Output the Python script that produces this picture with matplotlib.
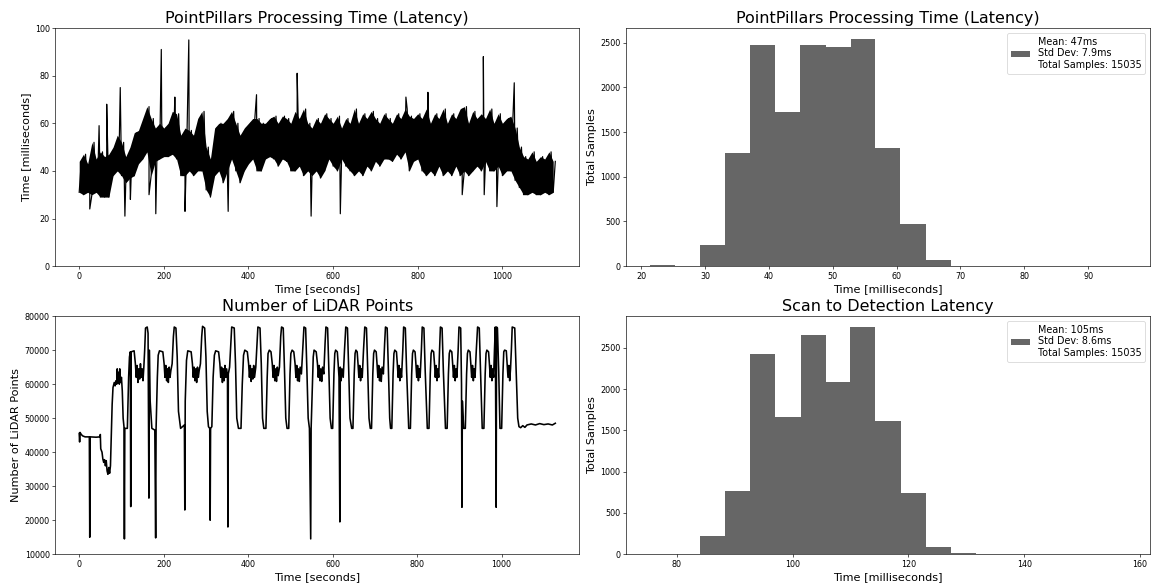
import numpy as np
import matplotlib
matplotlib.use("Agg")
import matplotlib.pyplot as plt

# ---- PointPillars latency over time ----
# band edges sampled every 10 seconds, low at t and high at t+5
lat_grid = np.arange(0, 1121, 10)
lat_low = [31, 30, 31, 30, 31, 29, 29, 29, 38, 40,
           38, 35, 37, 38, 43, 45, 48, 38, 44, 45,
           46, 46, 47, 45, 38, 38, 40, 38, 40, 40,
           32, 29, 38, 40, 35, 40, 45, 40, 35, 40,
           43, 45, 40, 40, 45, 46, 45, 42, 45, 44,
           40, 40, 42, 38, 40, 38, 40, 37, 40, 45,
           42, 40, 45, 42, 40, 38, 40, 38, 42, 40,
           44, 42, 45, 45, 44, 47, 45, 48, 40, 44,
           45, 40, 38, 40, 38, 42, 38, 40, 38, 42,
           38, 40, 38, 40, 42, 40, 44, 40, 40, 42,
           38, 40, 40, 36, 33, 30, 30, 31, 30, 30,
           31, 30, 31]
lat_high = [44, 47, 43, 52, 45, 48, 46, 47, 50, 55,
            52, 46, 50, 56, 57, 62, 67, 62, 58, 60,
            58, 60, 65, 64, 55, 58, 57, 55, 62, 65,
            50, 45, 58, 60, 60, 62, 65, 60, 55, 58,
            60, 62, 62, 60, 60, 62, 63, 60, 63, 62,
            60, 65, 62, 66, 60, 58, 62, 60, 64, 62,
            60, 63, 58, 62, 60, 66, 60, 64, 62, 65,
            62, 60, 64, 62, 60, 64, 62, 66, 63, 62,
            64, 62, 66, 60, 64, 62, 66, 60, 64, 62,
            66, 67, 60, 65, 62, 64, 62, 66, 60, 64,
            60, 62, 63, 58, 50, 46, 45, 48, 44, 46,
            45, 48, 44]
spike_t = [25, 47, 65, 97, 108, 121, 165, 181, 194, 226, 250, 259, 310,
           352, 419, 515, 548, 617, 772, 824, 905, 955, 957, 987, 1028]
spike_v = [24, 59, 68, 75, 21, 28, 30, 22, 91, 71, 23, 95, 29,
           23, 72, 81, 21, 22, 71, 73, 30, 88, 30, 25, 77]

# ---- Number of LiDAR points over time ----
lidar_t = [0, 1, 2, 5, 8, 14, 24, 25, 26, 40, 49, 50, 51, 54, 56, 58, 60, 62, 64, 66,
           68, 70, 72, 74, 76, 78, 80, 83, 85, 87, 89, 90, 91, 93, 95, 96, 98, 100, 102, 104,
           106, 107, 108,
           114, 117, 119, 121, 122, 123, 130, 133, 135, 137, 139, 141, 143, 145, 147, 149, 151,
           153, 155, 157, 161, 163, 165, 166, 168,
           172, 179, 181, 182, 185, 187, 190, 198, 201, 203, 205, 207, 209, 211, 213, 215, 217,
           220, 223, 225, 229, 232, 235,
           240, 249, 250, 251, 254, 257, 265, 268, 270, 272, 274, 276, 278, 280, 282, 284, 287,
           290, 292, 297, 300, 303,
           306, 309, 310, 311, 314, 317, 320, 323, 330, 333, 335, 337, 339, 341, 343, 345, 347,
           349, 351, 352, 353, 356, 359, 361, 367, 370, 373,
           377, 383, 386, 389, 392, 398, 401, 403, 405, 407, 409, 411, 413, 415, 418, 421, 423,
           428, 431, 434,
           437, 442, 445, 447, 450, 454, 457, 459, 461, 463, 465, 467, 469, 471, 474, 477, 479,
           483, 486, 489,
           492, 496, 499, 501, 504, 508, 511, 513, 515, 517, 519, 521, 523, 526, 529, 532, 536,
           539, 542,
           545, 548, 549, 551, 554, 556, 561, 564, 566, 568, 570, 572, 574, 576, 579, 582, 584,
           588, 591, 594,
           597, 600, 603, 605, 607, 611, 613, 615, 617, 618, 620, 622, 625, 628, 631, 635, 638,
           641,
           645, 648, 651, 653, 655, 658, 660, 662, 664, 666, 668, 670, 673, 676, 680, 683, 686,
           689, 692, 695, 697, 699, 703, 705, 707, 709, 711, 713, 715, 717, 720, 723, 725, 729,
           732, 735,
           737, 740, 743, 745, 747, 751, 753, 755, 757, 759, 761, 763, 766, 768, 772, 775,
           780, 784, 787, 789, 791, 795, 797, 799, 801, 803, 805, 807, 810, 812, 816, 819,
           824, 828, 831, 833, 835, 839, 841, 843, 845, 847, 849, 851, 853, 855, 859, 862,
           867, 871, 874, 876, 878, 882, 884, 886, 888, 890, 892, 894, 897, 899, 903, 905, 906,
           907,
           910, 914, 917, 919, 921, 925, 927, 929, 931, 933, 935, 937, 940, 943, 947, 950,
           954, 958, 961, 963, 965, 969, 971, 973, 975, 977, 979, 981, 983, 985, 987, 988, 990,
           993,
           996, 1000, 1003, 1005, 1007, 1011, 1013, 1015, 1017, 1019, 1021, 1023, 1025, 1031,
           1034, 1038, 1041, 1045, 1050, 1055, 1060, 1070, 1080, 1090, 1100, 1110, 1120, 1127]
lidar_v = [45500, 43000, 45800, 45200, 44800, 44500, 44500, 15000, 44500, 44400,
           44500, 45200, 41000, 40000, 38000, 37000, 37800, 36000, 37500, 34500,
           33500, 35500, 33800, 36000, 45000, 54000, 59000, 60500, 59500, 61000,
           60000, 64500, 60500, 63500, 60000, 64500, 60500, 62000, 58000, 50000,
           47500, 14500, 47000,
           47000, 62000, 68000, 69500, 24000, 69500, 69800, 66000, 62000, 65500, 60500,
           64500, 61500, 66000, 62000, 64500, 61000, 65000, 70000, 76500, 76800, 75000,
           26500, 70000, 55000,
           47000, 46500, 14800, 47000, 62000, 68500, 69800, 69500, 66000, 62000, 65500,
           61000, 64500, 60500, 65000, 62000, 64000, 66000, 74000, 76800, 76500, 68000,
           52000,
           47000, 48000, 23000, 55000, 67000, 69800, 69500, 66000, 62000, 65000, 61000,
           64500, 60500, 65000, 62000, 64000, 66000, 74000, 77000, 76500, 68000, 52000,
           47500, 47000, 20000, 47000, 47500, 62000, 68500, 69800, 69500, 66000, 62000,
           65000, 60500, 64500, 61000, 65500, 62000, 64500, 62000, 18000, 63000, 65000,
           72000, 76800, 76500, 66000, 50000,
           47000, 47000, 60000, 68500, 70000, 69500, 66000, 62000, 65500, 60800, 64500,
           61500, 65500, 62000, 65000, 72000, 76800, 76500, 66000, 50000,
           47000, 47000, 62000, 69000, 70000, 69500, 66000, 62000, 65500, 61000, 64500,
           60800, 65000, 62500, 65000, 74000, 76800, 76500, 64000, 50000,
           47000, 47000, 63000, 69000, 70000, 69500, 66000, 62000, 65500, 61000, 64500,
           60800, 65000, 63000, 70000, 76800, 76500, 64000, 50000,
           47000, 14500, 47000, 55000, 68000, 70000, 69500, 66000, 62000, 65500, 61000,
           64500, 60800, 65000, 63000, 72000, 76800, 76500, 64000, 50000,
           47000, 47000, 63000, 69000, 70000, 69500, 66000, 62000, 19500, 65000, 61000,
           64500, 62000, 70000, 76800, 76500, 64000, 50000,
           47000, 47000, 63000, 69000, 70000, 69500, 66000, 62000, 65500, 61000, 64500,
           62000, 70000, 76800, 76500, 64000, 50000,
           47000, 47000, 63000, 69000, 70000, 69500, 66000, 62000, 65500, 61000, 64500,
           60800, 65000, 63000, 72000, 76800, 76500, 64000, 50000,
           47000, 47000, 63000, 69000, 70000, 69500, 66000, 62000, 65500, 61000, 64500,
           62000, 70000, 76800, 76500, 64000,
           47000, 47000, 63000, 69000, 70000, 69500, 66000, 62000, 65500, 61000, 64500,
           62000, 70000, 76800, 76500, 64000,
           47000, 47000, 63000, 69000, 70000, 69500, 66000, 62000, 65500, 61000, 64500,
           62000, 70000, 76800, 76500, 64000,
           47000, 47000, 63000, 69000, 70000, 69500, 66000, 62000, 65500, 61000, 64500,
           62000, 70000, 76800, 76500, 60000, 23800, 55000,
           47000, 47000, 63000, 69000, 70000, 69500, 66000, 62000, 65500, 61000, 64500,
           62000, 70000, 76800, 76500, 64000,
           47000, 47000, 63000, 69000, 70000, 69500, 66000, 62000, 65500, 61000, 64500,
           62000, 70000, 76800, 23800, 76800, 76500, 64000,
           47000, 47000, 63000, 69500, 70000, 69800, 66000, 62000, 65500, 61000, 64500,
           70000, 76800, 76500, 65000, 50000, 47500, 47200, 47800, 47300, 48000, 48300,
           48000, 48400, 48100, 48300, 48000, 48500]

# ---- Histograms (bin edges and counts) ----
pp_edges = [21.4, 25.3, 29.2, 33.1, 37.1, 41.0, 44.9, 48.9, 52.8, 56.7, 60.6,
            64.6, 68.5, 72.4, 76.3, 80.2, 84.2, 88.1, 92.0, 95.95]
pp_counts = [8, 2, 235, 1269, 2474, 1720, 2470, 2452, 2537, 1317,
             470, 71, 4, 1, 1, 1, 1, 1, 1]
pp_label = "Mean: 47ms\nStd Dev: 7.9ms\nTotal Samples: 15035"

s2d_edges = [75.4, 79.7, 84.05, 88.4, 92.7, 97.0, 101.4, 105.7, 110.0, 114.3,
             118.7, 123.0, 127.3, 131.6, 136.0, 140.3, 144.6, 148.9, 153.3, 157.6]
s2d_counts = [1, 0, 226, 762, 2425, 1665, 2655, 2081, 2745, 1613,
              747, 93, 16, 2, 1, 1, 0, 1, 1]
s2d_label = "Mean: 105ms\nStd Dev: 8.6ms\nTotal Samples: 15035"

# assemble the latency trace: low/high band plus the single-frame spikes
lat_t = np.concatenate([lat_grid, lat_grid + 5, spike_t])
lat_v = np.concatenate([lat_low, lat_high, spike_v])
order = np.argsort(lat_t, kind="stable")

fig, axes = plt.subplots(2, 2, figsize=(20, 584 / 57.7), dpi=57.7)
ax1, ax2 = axes[0]
ax3, ax4 = axes[1]

# the raw trace is so dense that it reads as a solid band
ax1.fill_between(lat_grid, lat_low, lat_high, color="black", linewidth=0)
ax1.plot(lat_t[order], lat_v[order], color="black", linewidth=1.5)
ax1.set_ylim(0, 100)
ax1.set_title("PointPillars Processing Time (Latency)", fontsize=20)
ax1.set_xlabel("Time [seconds]", fontsize=14)
ax1.set_ylabel("Time [milliseconds]", fontsize=14)

ax2.hist(pp_edges[:-1], bins=pp_edges, weights=pp_counts, color="black", alpha=0.6,
         label=pp_label)
ax2.set_title("PointPillars Processing Time (Latency)", fontsize=20)
ax2.set_xlabel("Time [milliseconds]", fontsize=14)
ax2.set_ylabel("Total Samples", fontsize=14)
ax2.legend(loc="upper right", fontsize=12)

ax3.plot(lidar_t, lidar_v, color="black", linewidth=2)
ax3.set_ylim(10000, 80000)
ax3.set_title("Number of LiDAR Points", fontsize=20)
ax3.set_xlabel("Time [seconds]", fontsize=14)
ax3.set_ylabel("Number of LiDAR Points", fontsize=14)

ax4.hist(s2d_edges[:-1], bins=s2d_edges, weights=s2d_counts, color="black", alpha=0.6,
         label=s2d_label)
ax4.set_title("Scan to Detection Latency", fontsize=20)
ax4.set_xlabel("Time [milliseconds]", fontsize=14)
ax4.set_ylabel("Total Samples", fontsize=14)
ax4.legend(loc="upper right", fontsize=12)

plt.subplots_adjust(left=0.048, right=0.9965, top=0.952, bottom=0.051,
                    wspace=0.09, hspace=0.21)
plt.savefig("out.png")
